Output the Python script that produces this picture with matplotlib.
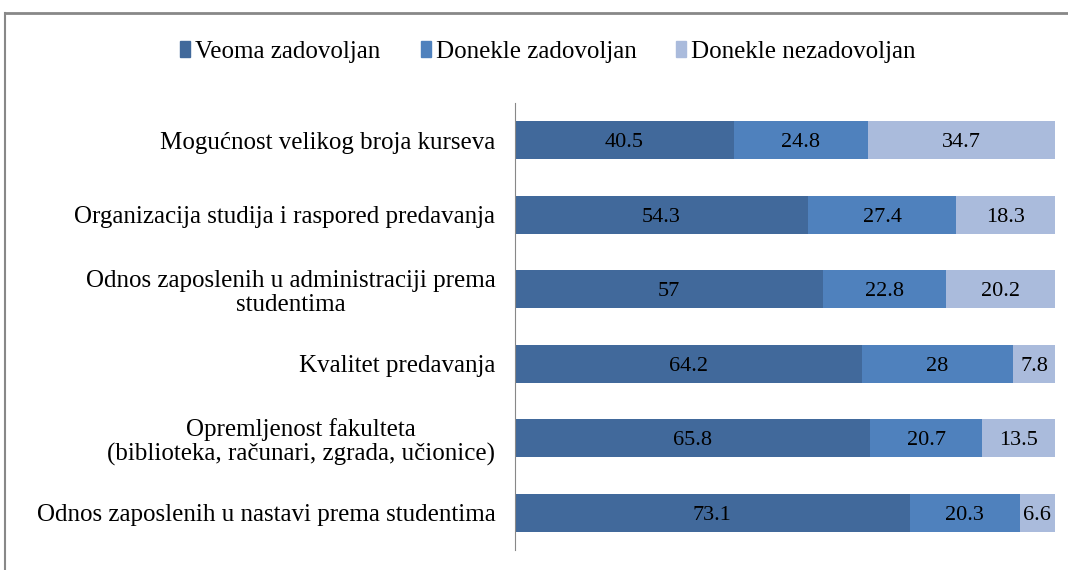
import matplotlib.pyplot as plt
import numpy as np
from matplotlib.lines import Line2D
from matplotlib.patches import Patch

# Categories (top to bottom) and the three response shares
categories = [
    "Mogućnost velikog broja kurseva",
    "Organizacija studija i raspored predavanja",
    "Odnos zaposlenih u administraciji prema\nstudentima",
    "Kvalitet predavanja",
    "Opremljenost fakulteta\n(biblioteka, računari, zgrada, učionice)",
    "Odnos zaposlenih u nastavi prema studentima",
]
veoma = [40.5, 54.3, 57, 64.2, 65.8, 73.1]
donekle_zad = [24.8, 27.4, 22.8, 28, 20.7, 20.3]
donekle_nezad = [34.7, 18.3, 20.2, 7.8, 13.5, 6.6]

series_names = ["Veoma zadovoljan", "Donekle zadovoljan", "Donekle nezadovoljan"]
colors = ["#41699b", "#4f81bd", "#aabbdc"]

plt.rcParams['font.family'] = ['Liberation Serif', 'DejaVu Serif']

fig = plt.figure(figsize=(10.68, 5.70), dpi=100)
ax = fig.add_axes([0.482, 0.035, 0.506, 0.784])

y = np.arange(len(categories))
left = np.zeros(len(categories))
for vals, col, name in zip([veoma, donekle_zad, donekle_nezad], colors, series_names):
    vals = np.array(vals, dtype=float)
    ax.barh(y, vals, left=left, height=0.51, color=col, label=name)
    for yi, l, v in zip(y, left, vals):
        ax.text(l + v / 2, yi, f"{v:g}", ha='center', va='center_baseline',
                fontsize=16, color='black')
    left += vals

ax.set_xlim(0, 100)
ax.set_ylim(len(categories) - 0.5, -0.5)
ax.set_yticks(y)
ax.set_yticklabels(categories, fontsize=18, ha='right', multialignment='center',
                   linespacing=1.12)
ax.tick_params(axis='y', length=0, pad=14)
ax.set_xticks([])
for side in ['top', 'right', 'bottom']:
    ax.spines[side].set_visible(False)
ax.spines['left'].set_color('#888888')

# legend with small tall rectangles
handles = [Patch(facecolor=c, edgecolor=c) for c in colors]
fig.legend(handles, series_names, loc='center', bbox_to_anchor=(548 / 1068, 1 - 52 / 570),
           ncol=3, frameon=False, fontsize=18, handlelength=0.4, handleheight=0.6,
           handletextpad=0.2, columnspacing=1.6)

# partial frame around the chart (top and left only)
fig.add_artist(Line2D([5 / 1068, 5 / 1068], [0, 1 - 13 / 570], color='#888888', lw=1.5,
                      transform=fig.transFigure))
fig.add_artist(Line2D([5 / 1068, 1], [1 - 13 / 570, 1 - 13 / 570], color='#888888', lw=2,
                      transform=fig.transFigure))

plt.savefig('out.png', dpi=100)
plt.close()
